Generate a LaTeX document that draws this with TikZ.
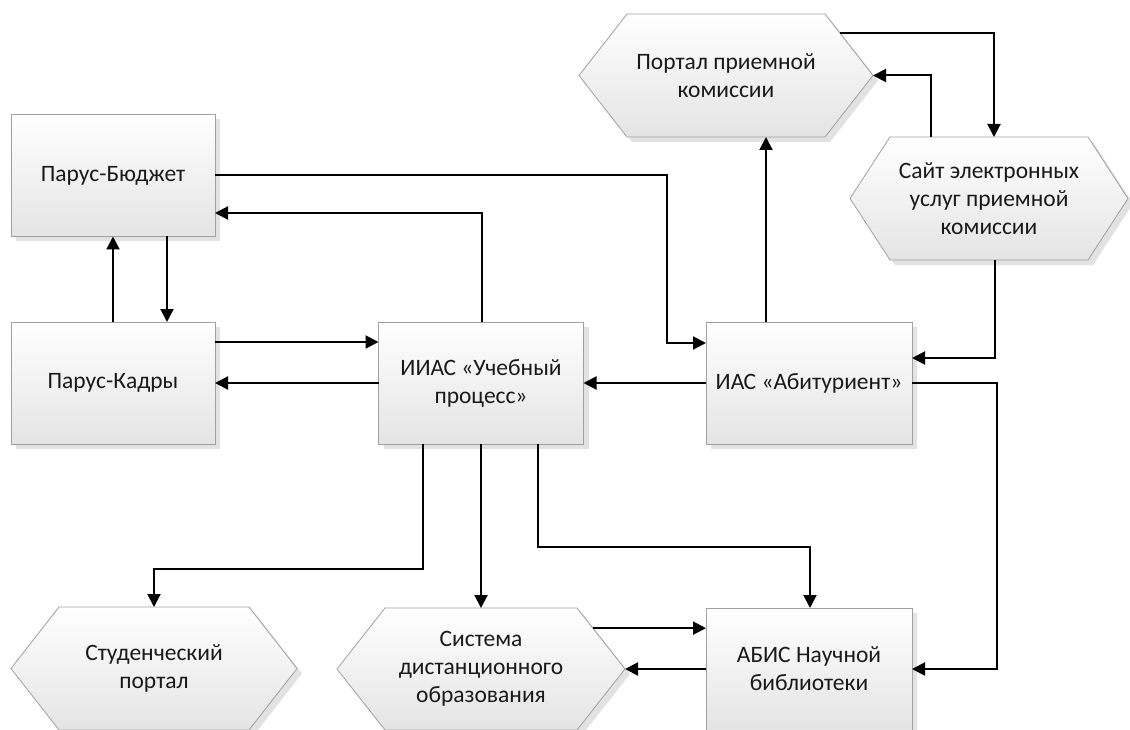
\documentclass[tikz,border=0pt]{standalone}
\usepackage{fontspec}
\setmainfont{Carlito}
\usetikzlibrary{arrows.meta,shadows,calc}
\pgfdeclarelayer{background}
\pgfsetlayers{background,main}
\definecolor{edgegray}{HTML}{A0A0A0}
\definecolor{fillbottom}{HTML}{E4E4E4}
\definecolor{shadowgray}{HTML}{E2E2E2}
\definecolor{textcol}{HTML}{1A1A1A}
\tikzset{
  txt/.style={align=center, inner sep=0pt, outer sep=0pt, text=textcol, font=\fontsize{23.5}{28}\selectfont},
  sysbox/.style={txt, draw=edgegray, line width=0.8pt, top color=white, bottom color=fillbottom,
    drop shadow={shadow xshift=5pt, shadow yshift=-5pt, fill=shadowgray, opacity=1},
    minimum width=205pt, minimum height=122pt},
  hexnode/.style={txt, draw=none, fill=none},
  hexfill/.style={draw=edgegray, line width=0.8pt, top color=white, bottom color=fillbottom,
    drop shadow={shadow xshift=5pt, shadow yshift=-5pt, fill=shadowgray, opacity=1}},
  conn/.style={line width=2pt, -{Triangle[length=13pt,width=13pt]}},
}
\newcommand\hexpath[2]{\path[hexfill] (#1.west) -- ([xshift=#2]#1.north west) -- ([xshift=-#2]#1.north east) -- (#1.east) -- ([xshift=-#2]#1.south east) -- ([xshift=#2]#1.south west) -- cycle;}
\begin{document}
\begin{tikzpicture}[x=1pt,y=-1pt]
\useasboundingbox (0,0) rectangle (1130,730);

% rectangles
\node[sysbox, minimum width=204pt] (budget) at (113,175.5) {Парус-Бюджет};
\node[sysbox, minimum width=204pt] (kadry) at (113,383) {Парус-Кадры};
\node[sysbox] (uch) at (481,383) {ИИАС «Учебный\\процесс»};
\node[sysbox, minimum width=206pt] (abit) at (809,383) {ИАС «Абитуриент»};
\node[sysbox, minimum width=206pt] (abis) at (809,669) {АБИС Научной\\библиотеки};

% hexagons
\node[hexnode, minimum width=294pt, minimum height=123pt] (portal) at (726,75.5) {Портал приемной\\комиссии};
\node[hexnode, minimum width=278pt, minimum height=123pt] (sayt) at (989,198.5) {Сайт электронных\\услуг приемной\\комиссии};
\node[hexnode, minimum width=286pt, minimum height=123pt] (stud) at (154,668.5) {Студенческий\\портал};
\node[hexnode, minimum width=288pt, minimum height=122pt] (sdo) at (481,669) {Система\\дистанционного\\образования};
\begin{pgfonlayer}{background}
\fill[white] (0,0) rectangle (1130,730);
\hexpath{portal}{48pt}
\hexpath{sayt}{40pt}
\hexpath{stud}{48pt}
\hexpath{sdo}{48pt}
\end{pgfonlayer}

\coordinate (pstart) at ($([xshift=-48pt]portal.north east)!0.31!(portal.east)$);
\coordinate (sstart) at ($([xshift=-48pt]sdo.north east)!0.33!(sdo.east)$);

% connectors
\draw[conn] (kadry.north) -- (budget.south);
\draw[conn] ([xshift=54pt]budget.south) -- ([xshift=54pt]kadry.north);
\draw[conn] (budget.east) -- (667,175.5) |- ([yshift=40pt]abit.west);
\draw[conn] ([xshift=1pt]uch.north) |- ([yshift=-37.5pt]budget.east);
\draw[conn] ([yshift=41pt]kadry.east) -- ([yshift=41pt]uch.west);
\draw[conn] (uch.west) -- (kadry.east);
\draw[conn] (abit.west) -- (uch.east);
\draw[conn] ([xshift=-43pt]abit.north) -- ([xshift=-43pt]abit.north |- portal.south);
\draw[conn] (pstart) -| ([xshift=5pt]sayt.north);
\draw[conn] ([xshift=-58pt]sayt.north) |- (portal.east);
\draw[conn] ([xshift=6pt]sayt.south) |- ([yshift=25pt]abit.east);
\draw[conn] (abit.east) -- ++(85,0) |- (abis.east);
\draw[conn] ([xshift=-58pt]uch.south) -- ++(0,125) -| (stud.north);
\draw[conn] (uch.south) -- (sdo.north);
\draw[conn] ([xshift=57pt]uch.south) -- ++(0,103) -| ([xshift=1pt]abis.north);
\draw[conn] (sstart) -- (sstart -| abis.west);
\draw[conn] (abis.west) -- (sdo.east);
\end{tikzpicture}
\end{document}
